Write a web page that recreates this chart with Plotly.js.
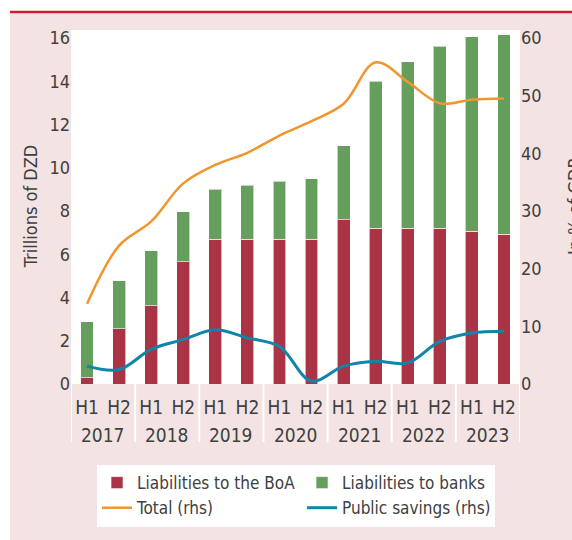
<!DOCTYPE html>
<html>
<head>
<meta charset="utf-8">
<script src="https://cdn.plot.ly/plotly-3.0.1.min.js"></script>
<style>
  html, body { margin: 0; padding: 0; background: #fff; }
  #chart { width: 572px; height: 540px; }
</style>
</head>
<body>
<div id="chart"></div>
<script>
// Half-year periods
const years = ['2017', '2017', '2018', '2018', '2019', '2019', '2020', '2020',
               '2021', '2021', '2022', '2022', '2023', '2023'];
const halves = ['H1', 'H2', 'H1', 'H2', 'H1', 'H2', 'H1', 'H2',
                'H1', 'H2', 'H1', 'H2', 'H1', 'H2'];

// Trillions of DZD (lhs)
const liabBoA = [0.3, 2.55, 3.63, 5.66, 6.7, 6.7, 6.7, 6.7, 7.6, 7.2, 7.2, 7.2, 7.07, 6.92];
const liabBanks = [2.59, 2.23, 2.54, 2.3, 2.3, 2.48, 2.68, 2.8, 3.42, 6.79, 7.7, 8.43, 8.98, 9.22];

// In % of GDP (rhs)
const totalPct = [13.9, 24.0, 28.2, 34.8, 38.0, 40.1, 43.1, 45.6, 48.6, 55.8, 52.4, 48.7, 49.3, 49.5];
const savingsPct = [3.1, 2.5, 6.0, 7.7, 9.4, 8.0, 6.5, 0.5, 3.1, 3.95, 3.66, 7.4, 8.85, 9.13];

const FONT = 'Liberation Sans Narrow, DejaVu Sans Condensed, Arial Narrow, sans-serif';
const TEXT = '#404040';
const PINK = '#f3e4e3';

// one category per half-year, labelled H1/H2; years are written underneath
const periods = years.map((y, i) => y + ' ' + halves[i]);
const yearList = [...new Set(years)];

const traces = [
    {
        x: periods, y: liabBoA, type: 'bar', name: 'Liabilities to the BoA',
        marker: { color: '#ab3346', line: { color: 'rgba(255,255,255,0.6)', width: 1 } }
    },
    {
        x: periods, y: liabBanks, type: 'bar', name: 'Liabilities to banks',
        marker: { color: '#669e5e', line: { color: 'rgba(255,255,255,0.6)', width: 1 } }
    },
    {
        x: periods, y: totalPct, type: 'scatter', mode: 'lines', name: 'Total (rhs)',
        yaxis: 'y2', line: { color: '#ef962c', width: 2.5, shape: 'spline' }
    },
    {
        x: periods, y: savingsPct, type: 'scatter', mode: 'lines', name: 'Public savings (rhs)',
        yaxis: 'y2', line: { color: '#1184a9', width: 3, shape: 'spline' }
    }
];

// year labels and white dividers under the axis
const yearNotes = yearList.map(y => ({
    text: y, xref: 'x', yref: 'paper',
    x: years.indexOf(y) + 0.5, y: -0.143,
    xanchor: 'center', yanchor: 'middle', showarrow: false,
    font: { family: FONT, size: 19, color: TEXT }
}));

const dividers = [];
for (let i = 0; i <= yearList.length; i++) {
    const xPos = i * 2 - 0.5;
    dividers.push({
        type: 'line', xref: 'x', yref: 'paper', x0: xPos, x1: xPos, y0: 0, y1: -0.164,
        line: { color: '#ffffff', width: 2 }
    });
}

const layout = {
    width: 572,
    height: 540,
    margin: { l: 71, r: 52, t: 30, b: 156 },
    paper_bgcolor: PINK,
    plot_bgcolor: '#ffffff',
    font: { family: FONT, color: TEXT, size: 18 },
    barmode: 'stack',
    bargap: 0.6,
    showlegend: true,
    xaxis: {
        type: 'category',
        tickvals: periods,
        ticktext: halves,
        range: [-0.5, periods.length - 0.5],
        showgrid: false,
        showline: false,
        tickangle: 0,
        ticks: '',
        ticklabelstandoff: 10,
        tickfont: { family: FONT, size: 19, color: TEXT }
    },
    yaxis: {
        range: [0, 16.37],
        tickvals: [0, 2, 4, 6, 8, 10, 12, 14, 16],
        showgrid: false,
        zeroline: false,
        showline: false,
        ticks: '',
        tickfont: { family: FONT, size: 18, color: TEXT }
    },
    yaxis2: {
        overlaying: 'y',
        side: 'right',
        range: [0, 61.4],
        tickvals: [0, 10, 20, 30, 40, 50, 60],
        showgrid: false,
        zeroline: false,
        showline: false,
        ticks: '',
        tickfont: { family: FONT, size: 18, color: TEXT }
    },
    legend: {
        orientation: 'h',
        x: 0.058, xanchor: 'left',
        y: -0.229, yanchor: 'top',
        bgcolor: 'rgba(0,0,0,0)',
        borderwidth: 0,
        entrywidth: 160,
        traceorder: 'normal',
        font: { family: FONT, size: 17, color: TEXT }
    },
    annotations: [
        {
            text: 'Trillions of DZD', xref: 'paper', yref: 'paper',
            x: -0.091, y: 0.5, xanchor: 'center', yanchor: 'middle',
            textangle: -90, showarrow: false,
            font: { family: FONT, size: 18, color: TEXT }
        },
        {
            text: 'In % of GDP', xref: 'paper', yref: 'paper',
            x: 1.12, y: 0.5, xanchor: 'center', yanchor: 'middle',
            textangle: -90, showarrow: false,
            font: { family: FONT, size: 18, color: TEXT }
        },
        ...yearNotes
    ],
    shapes: [
        // white strip above and left of the panel
        { type: 'rect', xref: 'paper', yref: 'paper', x0: -0.2, x1: 1.2, y0: 1.0508, y1: 1.2,
          fillcolor: '#ffffff', line: { width: 0 } },
        { type: 'rect', xref: 'paper', yref: 'paper', x0: -0.2, x1: -0.1359, y0: -0.5, y1: 1.2,
          fillcolor: '#ffffff', line: { width: 0 } },
        // red rule on top
        { type: 'line', xref: 'paper', yref: 'paper', x0: -0.1359, x1: 1.2, y0: 1.0508, y1: 1.0508,
          line: { color: '#c8202e', width: 2.5 } },
        // white legend box
        { type: 'rect', xref: 'paper', yref: 'paper', x0: 0.0579, x1: 0.9443, y0: -0.404, y1: -0.2288,
          fillcolor: '#ffffff', line: { width: 0 } },
        ...dividers
    ]
};

Plotly.newPlot('chart', traces, layout, { displayModeBar: false, staticPlot: true });
</script>
</body>
</html>
